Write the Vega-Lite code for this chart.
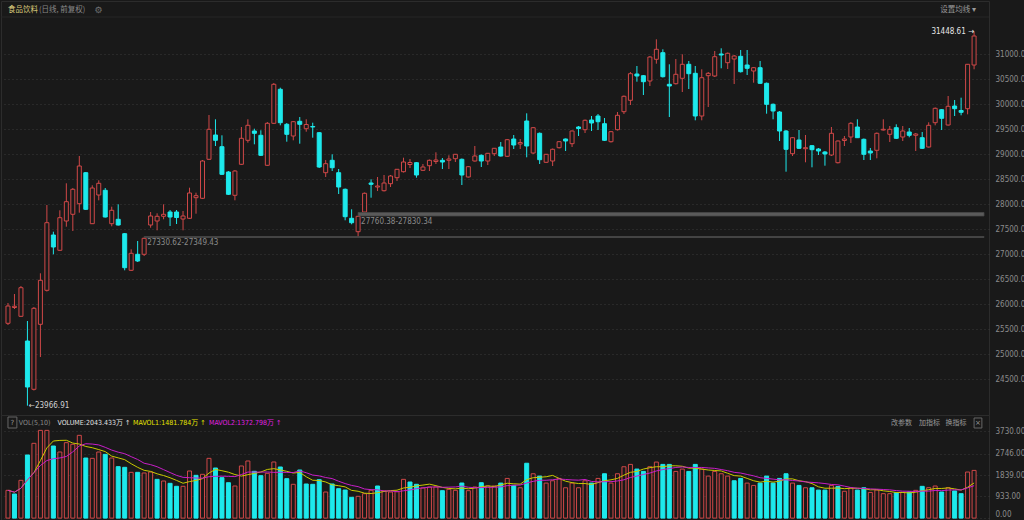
{
 "$schema": "https://vega.github.io/schema/vega-lite/v6.json",
 "background": "#191919",
 "padding": 0,
 "spacing": 0,
 "bounds": "flush",
 "config": {"view": {"stroke": "#2c2c2c", "strokeWidth": 1}},
 "datasets": {
  "k": [
{"i":0,"o":25614,"h":26020,"l":25580,"c":25960,"v":1190},
{"i":1,"o":25930,"h":26200,"l":25900,"c":25955,"v":1032},
{"i":2,"o":25754,"h":26360,"l":25740,"c":26326,"v":1618},
{"i":3,"o":25260,"h":25660,"l":23966.91,"c":24340,"v":2703},
{"i":4,"o":24294,"h":25940,"l":24270,"c":25914,"v":3203},
{"i":5,"o":25594,"h":26614,"l":24940,"c":26474,"v":3758},
{"i":6,"o":26274,"h":27980,"l":26250,"c":27626,"v":3758},
{"i":7,"o":27380,"h":27446,"l":26994,"c":27140,"v":3088},
{"i":8,"o":27074,"h":27874,"l":27060,"c":27726,"v":2831},
{"i":9,"o":27660,"h":28414,"l":27546,"c":28046,"v":3231},
{"i":10,"o":27794,"h":28320,"l":27460,"c":28294,"v":3162},
{"i":11,"o":28006,"h":28960,"l":27826,"c":28760,"v":3545},
{"i":12,"o":28626,"h":28640,"l":27880,"c":27894,"v":2574},
{"i":13,"o":27606,"h":28374,"l":27600,"c":28320,"v":2560},
{"i":14,"o":28180,"h":28474,"l":28074,"c":28414,"v":2831},
{"i":15,"o":28274,"h":28320,"l":27730,"c":27740,"v":2731},
{"i":16,"o":27606,"h":27946,"l":27554,"c":27874,"v":2574},
{"i":17,"o":27694,"h":27994,"l":27570,"c":27580,"v":2203},
{"i":18,"o":27406,"h":27420,"l":26674,"c":26726,"v":2175},
{"i":19,"o":26674,"h":27094,"l":26660,"c":27014,"v":1960},
{"i":20,"o":26994,"h":27260,"l":26840,"c":26860,"v":1960},
{"i":21,"o":26994,"h":27330.62,"l":26960,"c":27314,"v":1932},
{"i":22,"o":27580,"h":27840,"l":27526,"c":27760,"v":1975},
{"i":23,"o":27660,"h":27814,"l":27474,"c":27754,"v":1660},
{"i":24,"o":27754,"h":27994,"l":27694,"c":27794,"v":1589},
{"i":25,"o":27840,"h":27880,"l":27560,"c":27740,"v":1489},
{"i":26,"o":27840,"h":27880,"l":27600,"c":27730,"v":1362},
{"i":27,"o":27700,"h":27860,"l":27474,"c":27760,"v":1362},
{"i":28,"o":27714,"h":28326,"l":27700,"c":28220,"v":2017},
{"i":29,"o":28126,"h":28226,"l":27806,"c":28166,"v":1832},
{"i":30,"o":28114,"h":28880,"l":28100,"c":28860,"v":1875},
{"i":31,"o":28894,"h":29780,"l":28880,"c":29494,"v":2560},
{"i":32,"o":29380,"h":29694,"l":29160,"c":29274,"v":2146},
{"i":33,"o":29146,"h":29374,"l":28580,"c":28594,"v":1732},
{"i":34,"o":28640,"h":28660,"l":28180,"c":28194,"v":1516},
{"i":35,"o":28174,"h":28680,"l":28074,"c":28660,"v":1375},
{"i":36,"o":28794,"h":29540,"l":28780,"c":29314,"v":2232},
{"i":37,"o":29274,"h":29694,"l":29226,"c":29574,"v":2446},
{"i":38,"o":29460,"h":29506,"l":29194,"c":29414,"v":2004},
{"i":39,"o":29374,"h":29474,"l":28960,"c":28974,"v":1817},
{"i":40,"o":28774,"h":29640,"l":28760,"c":29614,"v":1918},
{"i":41,"o":29614,"h":30420,"l":29600,"c":30394,"v":2403},
{"i":42,"o":30294,"h":30326,"l":29574,"c":29626,"v":2189},
{"i":43,"o":29594,"h":29620,"l":29246,"c":29394,"v":1689},
{"i":44,"o":29360,"h":29660,"l":29274,"c":29646,"v":1448},
{"i":45,"o":29654,"h":29740,"l":29206,"c":29594,"v":2060},
{"i":46,"o":29506,"h":29694,"l":29446,"c":29590,"v":1461},
{"i":47,"o":29550,"h":29626,"l":29326,"c":29540,"v":1448},
{"i":48,"o":29426,"h":29440,"l":28720,"c":28740,"v":1646},
{"i":49,"o":28626,"h":28880,"l":28540,"c":28806,"v":1118},
{"i":50,"o":28874,"h":28994,"l":28660,"c":28726,"v":1461},
{"i":51,"o":28626,"h":28700,"l":28200,"c":28340,"v":1260},
{"i":52,"o":28294,"h":28310,"l":27674,"c":27746,"v":1203},
{"i":53,"o":27714,"h":27894,"l":27594,"c":27626,"v":891},
{"i":54,"o":27446,"h":27760.38,"l":27346,"c":27754,"v":933},
{"i":55,"o":27840,"h":28230,"l":27830.34,"c":28214,"v":1046},
{"i":56,"o":28420,"h":28494,"l":28126,"c":28394,"v":1190},
{"i":57,"o":28340,"h":28540,"l":28260,"c":28360,"v":1375},
{"i":58,"o":28266,"h":28580,"l":28250,"c":28420,"v":1160},
{"i":59,"o":28406,"h":28580,"l":28340,"c":28560,"v":1118},
{"i":60,"o":28526,"h":28700,"l":28460,"c":28694,"v":1132},
{"i":61,"o":28646,"h":28926,"l":28630,"c":28840,"v":1660},
{"i":62,"o":28790,"h":28900,"l":28720,"c":28830,"v":1546},
{"i":63,"o":28826,"h":28840,"l":28526,"c":28580,"v":1448},
{"i":64,"o":28674,"h":28800,"l":28660,"c":28740,"v":1289},
{"i":65,"o":28766,"h":28890,"l":28660,"c":28874,"v":1332},
{"i":66,"o":28850,"h":29034,"l":28800,"c":28880,"v":1332},
{"i":67,"o":28874,"h":28920,"l":28700,"c":28840,"v":1175},
{"i":68,"o":28874,"h":28974,"l":28700,"c":28900,"v":1232},
{"i":69,"o":28906,"h":29000,"l":28840,"c":28994,"v":1190},
{"i":70,"o":28894,"h":28910,"l":28380,"c":28580,"v":1503},
{"i":71,"o":28540,"h":28760,"l":28530,"c":28746,"v":1175},
{"i":72,"o":28860,"h":29160,"l":28850,"c":28960,"v":1332},
{"i":73,"o":28974,"h":28990,"l":28740,"c":28860,"v":1516},
{"i":74,"o":28860,"h":29020,"l":28780,"c":29014,"v":1375},
{"i":75,"o":29006,"h":29120,"l":28960,"c":29114,"v":1375},
{"i":76,"o":29140,"h":29240,"l":28950,"c":28960,"v":1500},
{"i":77,"o":28954,"h":29300,"l":28940,"c":29286,"v":1700},
{"i":78,"o":29300,"h":29380,"l":29100,"c":29180,"v":1400},
{"i":79,"o":29200,"h":29300,"l":29100,"c":29230,"v":1300},
{"i":80,"o":29660,"h":29814,"l":28934,"c":29160,"v":2350},
{"i":81,"o":29020,"h":29540,"l":29000,"c":29526,"v":1900},
{"i":82,"o":29414,"h":29430,"l":28800,"c":28886,"v":1800},
{"i":83,"o":28834,"h":29000,"l":28820,"c":28994,"v":1500},
{"i":84,"o":28860,"h":29110,"l":28760,"c":29094,"v":1600},
{"i":85,"o":29126,"h":29260,"l":29110,"c":29246,"v":1700},
{"i":86,"o":29300,"h":29310,"l":29060,"c":29260,"v":1300},
{"i":87,"o":29206,"h":29470,"l":29140,"c":29460,"v":1500},
{"i":88,"o":29540,"h":29560,"l":29360,"c":29510,"v":1300},
{"i":89,"o":29486,"h":29690,"l":29420,"c":29674,"v":1600},
{"i":90,"o":29680,"h":29760,"l":29460,"c":29620,"v":1500},
{"i":91,"o":29760,"h":29800,"l":29480,"c":29646,"v":1700},
{"i":92,"o":29606,"h":29720,"l":29260,"c":29274,"v":1900},
{"i":93,"o":29246,"h":29460,"l":29230,"c":29446,"v":1500},
{"i":94,"o":29486,"h":29840,"l":29470,"c":29774,"v":1900},
{"i":95,"o":29846,"h":30170,"l":29800,"c":30154,"v":2200},
{"i":96,"o":30074,"h":30640,"l":29980,"c":30606,"v":2300},
{"i":97,"o":30600,"h":30760,"l":30446,"c":30560,"v":2100},
{"i":98,"o":30566,"h":30580,"l":30180,"c":30446,"v":2000},
{"i":99,"o":30460,"h":30960,"l":30360,"c":30940,"v":2200},
{"i":100,"o":30894,"h":31294,"l":30806,"c":31094,"v":2400},
{"i":101,"o":31026,"h":31094,"l":30530,"c":30546,"v":2300},
{"i":102,"o":30394,"h":30794,"l":29740,"c":30360,"v":2300},
{"i":103,"o":30406,"h":30900,"l":30390,"c":30594,"v":2000},
{"i":104,"o":30514,"h":30994,"l":30240,"c":30794,"v":2100},
{"i":105,"o":30794,"h":30860,"l":30300,"c":30606,"v":2000},
{"i":106,"o":30614,"h":30760,"l":29674,"c":29760,"v":2300},
{"i":107,"o":29760,"h":30694,"l":29674,"c":30526,"v":2100},
{"i":108,"o":30566,"h":30640,"l":29940,"c":30614,"v":1800},
{"i":109,"o":30560,"h":31060,"l":30540,"c":30946,"v":2000},
{"i":110,"o":31000,"h":31114,"l":30714,"c":30980,"v":1900},
{"i":111,"o":30826,"h":31030,"l":30700,"c":31014,"v":1800},
{"i":112,"o":30900,"h":30980,"l":30400,"c":30960,"v":1600},
{"i":113,"o":30954,"h":31080,"l":30630,"c":30646,"v":1700},
{"i":114,"o":30780,"h":31080,"l":30580,"c":30714,"v":1500},
{"i":115,"o":30660,"h":30740,"l":30426,"c":30726,"v":1400},
{"i":116,"o":30726,"h":30860,"l":30400,"c":30414,"v":1500},
{"i":117,"o":30414,"h":30430,"l":29806,"c":29994,"v":1800},
{"i":118,"o":29994,"h":30010,"l":29694,"c":29860,"v":1500},
{"i":119,"o":29840,"h":29860,"l":29260,"c":29460,"v":1700},
{"i":120,"o":29460,"h":29480,"l":28646,"c":29094,"v":1900},
{"i":121,"o":29006,"h":29340,"l":28960,"c":29326,"v":1500},
{"i":122,"o":29280,"h":29480,"l":29100,"c":29114,"v":1400},
{"i":123,"o":29106,"h":29380,"l":28834,"c":29126,"v":1300},
{"i":124,"o":29166,"h":29180,"l":28734,"c":29086,"v":1300},
{"i":125,"o":29100,"h":29120,"l":28980,"c":29060,"v":1200},
{"i":126,"o":29040,"h":29060,"l":28766,"c":29000,"v":1200},
{"i":127,"o":28980,"h":29540,"l":28960,"c":29414,"v":1400},
{"i":128,"o":28826,"h":29270,"l":28810,"c":29260,"v":1350},
{"i":129,"o":29270,"h":29360,"l":29160,"c":29300,"v":1150},
{"i":130,"o":29340,"h":29640,"l":29220,"c":29614,"v":1300},
{"i":131,"o":29540,"h":29694,"l":29320,"c":29326,"v":1200},
{"i":132,"o":29294,"h":29310,"l":28880,"c":28994,"v":1300},
{"i":133,"o":29060,"h":29120,"l":28880,"c":29020,"v":1100},
{"i":134,"o":29074,"h":29430,"l":28914,"c":29414,"v":1200},
{"i":135,"o":29480,"h":29694,"l":29470,"c":29494,"v":1046},
{"i":136,"o":29394,"h":29560,"l":29240,"c":29494,"v":1046},
{"i":137,"o":29526,"h":29594,"l":29300,"c":29314,"v":1089},
{"i":138,"o":29340,"h":29560,"l":29260,"c":29460,"v":1104},
{"i":139,"o":29440,"h":29520,"l":29334,"c":29374,"v":1118},
{"i":140,"o":29374,"h":29420,"l":29060,"c":29400,"v":1189},
{"i":141,"o":29326,"h":29440,"l":29100,"c":29114,"v":1361},
{"i":142,"o":29140,"h":29634,"l":29130,"c":29574,"v":1304},
{"i":143,"o":29626,"h":29930,"l":29574,"c":29914,"v":1375},
{"i":144,"o":29886,"h":29900,"l":29480,"c":29714,"v":1118},
{"i":145,"o":29580,"h":30160,"l":29570,"c":29954,"v":1304},
{"i":146,"o":29960,"h":30080,"l":29760,"c":29906,"v":1161},
{"i":147,"o":29870,"h":30126,"l":29774,"c":29834,"v":1046},
{"i":148,"o":29906,"h":30800,"l":29794,"c":30794,"v":1974},
{"i":149,"o":30780,"h":31448.61,"l":30694,"c":31360,"v":2043.433}
  ],
  "gaps": [
   {"a": 21, "lo": 27330.62, "hi": 27349.43, "t": "27330.62-27349.43"},
   {"a": 54, "lo": 27760.38, "hi": 27830.34, "t": "27760.38-27830.34"}
  ]
 },
 "vconcat": [
  {
   "width": 988,
   "height": 414,
   "layer": [
    {
     "data": {"name": "k"},
     "mark": {"type": "rule", "strokeWidth": 1},
     "encoding": {
      "x": {"field": "i", "type": "quantitative", "scale": {"domain": [-0.305, 150.53], "nice": false, "zero": false}, "axis": null},
      "y": {"field": "l", "type": "quantitative", "scale": {"domain": [23780, 32060], "nice": false, "zero": false},
       "axis": {"orient": "right", "title": null, "values": [24500, 25000, 25500, 26000, 26500, 27000, 27500, 28000, 28500, 29000, 29500, 30000, 30500, 31000], "tickCount": 40, "format": ".1f", "domain": false, "ticks": false, "labelOverlap": false, "labelPadding": 6, "labelColor": "#8c8c8c", "labelFont": "Liberation Sans Narrow, DejaVu Sans Condensed, sans-serif", "labelFontSize": 8, "grid": true, "gridColor": "#3a3a3a", "gridDash": [1, 3], "gridWidth": 1}},
      "y2": {"field": "h"},
      "color": {"condition": {"test": "datum.c < datum.o", "value": "#1de9ec"}, "value": "#d04848"}
     }
    },
    {
     "data": {"name": "k"},
     "mark": {"type": "bar", "width": 4, "strokeWidth": 1},
     "encoding": {
      "x": {"field": "i", "type": "quantitative"},
      "y": {"field": "o", "type": "quantitative"},
      "y2": {"field": "c"},
      "fill": {"condition": {"test": "datum.c < datum.o", "value": "#1de9ec"}, "value": "#191919"},
      "stroke": {"condition": {"test": "datum.c < datum.o", "value": "#1de9ec"}, "value": "#d04848"}
     }
    },
    {
     "data": {"name": "gaps"},
     "mark": {"type": "rect", "fill": "#5a5a5a", "stroke": "#474747", "strokeWidth": 0.8},
     "encoding": {
      "x": {"field": "a", "type": "quantitative"},
      "x2": {"datum": 150.53},
      "y": {"field": "lo", "type": "quantitative"},
      "y2": {"field": "hi"}
     }
    },
    {
     "data": {"name": "gaps"},
     "mark": {"type": "text", "align": "left", "baseline": "middle", "dx": 3, "dy": 6, "fontSize": 8, "font": "Liberation Sans Narrow, DejaVu Sans Condensed, sans-serif", "fill": "#8a8a8a"},
     "encoding": {
      "x": {"field": "a", "type": "quantitative"},
      "y": {"field": "lo", "type": "quantitative"},
      "text": {"field": "t"}
     }
    },
    {
     "data": {"values": [{}]},
     "mark": {"type": "rule", "stroke": "#272727", "strokeWidth": 1},
     "encoding": {"y": {"datum": 31740}}
    },
    {
     "data": {"values": [{}]},
     "mark": {"type": "text", "align": "left", "baseline": "middle", "fontSize": 7.5, "font": "Noto Sans CJK SC", "fill": "#d9c97c"},
     "encoding": {"x": {"datum": 0}, "y": {"datum": 31880}, "text": {"value": "食品饮料"}}
    },
    {
     "data": {"values": [{}]},
     "mark": {"type": "text", "align": "left", "baseline": "middle", "fontSize": 7.5, "font": "Noto Sans CJK SC", "fill": "#888888"},
     "encoding": {"x": {"datum": 4.78}, "y": {"datum": 31880}, "text": {"value": "(日线, 前复权)"}}
    },
    {
     "data": {"values": [{}]},
     "mark": {"type": "text", "align": "center", "baseline": "middle", "fontSize": 9, "font": "DejaVu Sans", "fill": "#707070"},
     "encoding": {"x": {"datum": 13.97}, "y": {"datum": 31880}, "text": {"value": "⚙"}}
    },
    {
     "data": {"values": [{}]},
     "mark": {"type": "text", "align": "right", "baseline": "middle", "fontSize": 7.5, "font": "Noto Sans CJK SC", "fill": "#999999"},
     "encoding": {"x": {"datum": 149.3}, "y": {"datum": 31880}, "text": {"value": "设置均线 ▾"}}
    },
    {
     "data": {"values": [{}]},
     "mark": {"type": "text", "align": "right", "baseline": "middle", "dx": 0, "fontSize": 8, "font": "Liberation Sans Narrow, DejaVu Sans Condensed, sans-serif", "fill": "#e6e6e6"},
     "encoding": {"x": {"datum": 149}, "y": {"datum": 31448.61}, "text": {"value": "31448.61 →"}}
    },
    {
     "data": {"values": [{}]},
     "mark": {"type": "text", "align": "left", "baseline": "middle", "dx": 1.5, "fontSize": 8, "font": "Liberation Sans Narrow, DejaVu Sans Condensed, sans-serif", "fill": "#d0d0d0"},
     "encoding": {"x": {"datum": 3}, "y": {"datum": 23966.91}, "text": {"value": "←23966.91"}}
    }
   ]
  },
  {
   "width": 988,
   "height": 106,
   "layer": [
    {
     "data": {"name": "k"},
     "transform": [
      {"window": [{"op": "lag", "field": "c", "as": "pc"}], "sort": [{"field": "i"}]}
     ],
     "mark": {"type": "bar", "width": 4, "strokeWidth": 1},
     "encoding": {
      "x": {"field": "i", "type": "quantitative", "scale": {"domain": [-0.305, 150.53], "nice": false, "zero": false}, "axis": null},
      "y": {"field": "v", "type": "quantitative", "scale": {"domain": [-124, 4416], "nice": false, "zero": false},
       "axis": {"orient": "right", "title": null, "values": [0, 933, 1839, 2746, 3730], "tickCount": 20, "format": ".2f", "domain": false, "ticks": false, "labelOverlap": false, "labelPadding": 6, "labelColor": "#8c8c8c", "labelFont": "Liberation Sans Narrow, DejaVu Sans Condensed, sans-serif", "labelFontSize": 8, "labelBaseline": {"condition": {"test": "datum.value == 0", "value": "bottom"}, "value": "middle"}, "grid": true, "gridColor": "#3a3a3a", "gridDash": [1, 3], "gridWidth": 1}},
      "y2": {"datum": 0},
      "fill": {"condition": {"test": "datum.pc != null && datum.c < datum.pc", "value": "#1de9ec"}, "value": "#191919"},
      "stroke": {"condition": {"test": "datum.pc != null && datum.c < datum.pc", "value": "#1de9ec"}, "value": "#d04848"}
     }
    },
    {
     "data": {"name": "k"},
     "transform": [
      {"window": [{"op": "mean", "field": "v", "as": "m5"}], "frame": [-4, 0], "sort": [{"field": "i"}]}
     ],
     "mark": {"type": "line", "stroke": "#c9c900", "strokeWidth": 1},
     "encoding": {
      "x": {"field": "i", "type": "quantitative"},
      "y": {"field": "m5", "type": "quantitative"}
     }
    },
    {
     "data": {"name": "k"},
     "transform": [
      {"window": [{"op": "mean", "field": "v", "as": "m10"}], "frame": [-9, 0], "sort": [{"field": "i"}]}
     ],
     "mark": {"type": "line", "stroke": "#c81ec8", "strokeWidth": 1},
     "encoding": {
      "x": {"field": "i", "type": "quantitative"},
      "y": {"field": "m10", "type": "quantitative"}
     }
    },
    {
     "data": {"values": [{}]},
     "mark": {"type": "rect", "fill": "#191919", "stroke": "#666666", "strokeWidth": 1},
     "encoding": {"x": {"datum": 0}, "x2": {"datum": 1.37}, "y": {"datum": 4330}, "y2": {"datum": 3859}}
    },
    {
     "data": {"values": [{}]},
     "mark": {"type": "text", "align": "center", "baseline": "middle", "fontSize": 7, "font": "DejaVu Sans", "fill": "#9a9a9a"},
     "encoding": {"x": {"datum": 0.69}, "y": {"datum": 4073}, "text": {"value": "?"}}
    },
    {
     "data": {"values": [{}]},
     "mark": {"type": "text", "align": "left", "baseline": "middle", "fontSize": 7, "font": "Liberation Sans Narrow, DejaVu Sans Condensed, Noto Sans CJK SC, sans-serif", "fill": "#8a8a8a"},
     "encoding": {"x": {"datum": 1.68}, "y": {"datum": 4073}, "text": {"value": "VOL(5,10)"}}
    },
    {
     "data": {"values": [{}]},
     "mark": {"type": "text", "align": "left", "baseline": "middle", "fontSize": 7, "font": "Liberation Sans Narrow, DejaVu Sans Condensed, Noto Sans CJK SC, sans-serif", "fill": "#e0e0e0"},
     "encoding": {"x": {"datum": 7.63}, "y": {"datum": 4073}, "text": {"value": "VOLUME:2043.433万 ↑"}}
    },
    {
     "data": {"values": [{}]},
     "mark": {"type": "text", "align": "left", "baseline": "middle", "fontSize": 7, "font": "Liberation Sans Narrow, DejaVu Sans Condensed, Noto Sans CJK SC, sans-serif", "fill": "#e6e600"},
     "encoding": {"x": {"datum": 19.3}, "y": {"datum": 4073}, "text": {"value": "MAVOL1:1481.784万 ↑"}}
    },
    {
     "data": {"values": [{}]},
     "mark": {"type": "text", "align": "left", "baseline": "middle", "fontSize": 7, "font": "Liberation Sans Narrow, DejaVu Sans Condensed, Noto Sans CJK SC, sans-serif", "fill": "#e020e0"},
     "encoding": {"x": {"datum": 31.0}, "y": {"datum": 4073}, "text": {"value": "MAVOL2:1372.798万 ↑"}}
    },
    {
     "data": {"values": [{}]},
     "mark": {"type": "text", "align": "left", "baseline": "middle", "fontSize": 7, "font": "Noto Sans CJK SC", "fill": "#9a9a9a"},
     "encoding": {"x": {"datum": 136.2}, "y": {"datum": 4073}, "text": {"value": "改参数"}}
    },
    {
     "data": {"values": [{}]},
     "mark": {"type": "text", "align": "left", "baseline": "middle", "fontSize": 7, "font": "Noto Sans CJK SC", "fill": "#9a9a9a"},
     "encoding": {"x": {"datum": 140.5}, "y": {"datum": 4073}, "text": {"value": "加指标"}}
    },
    {
     "data": {"values": [{}]},
     "mark": {"type": "text", "align": "left", "baseline": "middle", "fontSize": 7, "font": "Noto Sans CJK SC", "fill": "#9a9a9a"},
     "encoding": {"x": {"datum": 144.6}, "y": {"datum": 4073}, "text": {"value": "换指标"}}
    },
    {
     "data": {"values": [{}]},
     "mark": {"type": "rect", "fill": "#191919", "stroke": "#666666", "strokeWidth": 1},
     "encoding": {"x": {"datum": 149.0}, "x2": {"datum": 150.2}, "y": {"datum": 4288}, "y2": {"datum": 3859}}
    },
    {
     "data": {"values": [{}]},
     "mark": {"type": "text", "align": "center", "baseline": "middle", "fontSize": 7, "font": "DejaVu Sans", "fill": "#9a9a9a"},
     "encoding": {"x": {"datum": 149.6}, "y": {"datum": 4073}, "text": {"value": "×"}}
    }
   ]
  }
 ]
}
